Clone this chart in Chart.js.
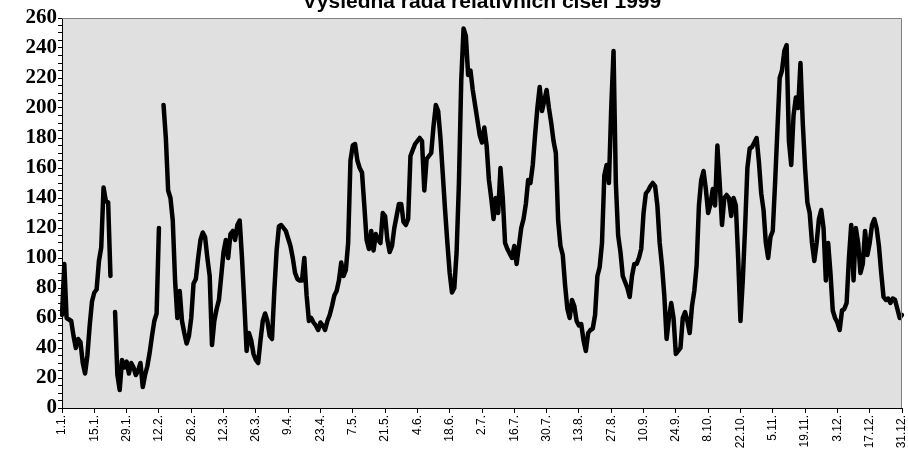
<!DOCTYPE html>
<html>
<head>
<meta charset="utf-8">
<script src="https://cdn.jsdelivr.net/npm/chart.js@4.4.0/dist/chart.umd.min.js"></script>
<style>
    html, body { margin: 0; padding: 0; background: #fff; }
</style>
</head>
<body>
<canvas id="myChart" width="908" height="457"></canvas>
<script>
// data (daily values 1999, one array per month)
const titleText = 'Výsledná řada relativních čísel 1999';
const tickLabels = ['1.1.', '15.1.', '29.1.', '12.2.', '26.2.', '12.3.', '26.3.', '9.4.', '23.4.', '7.5.', '21.5.', '4.6.', '18.6.',
    '2.7.', '16.7.', '30.7.', '13.8.', '27.8.', '10.9.', '24.9.', '8.10.', '22.10.', '5.11.', '19.11.', '3.12.', '17.12.', '31.12.'];

const jan = [62, 96, 60, 59, 58, 48, 40, 46, 44, 30, 23, 35, 55, 71, 77, 79, 98, 107, 147, 138, 137, 88, null, 64, 22, 12, 32, 27, 31, 23, 30];
const feb = [27, 22, 25, 30, 14, 22, 28, 37, 48, 58, 63, 120, null, 202, 180, 145, 140, 125, 85, 60, 78, 58, 50, 43, 48, 60, 83, 86];
const mar = [100, 112, 117, 114, 100, 88, 42, 58, 66, 72, 88, 104, 112, 100, 116, 118, 112, 122, 125, 100, 70, 38, 50, 45, 36, 32, 30, 45, 58, 63, 58];
const apr = [48, 46, 78, 105, 121, 122, 120, 118, 113, 108, 100, 90, 86, 85, 85, 100, 75, 58, 60, 57, 55, 52, 57, 55, 52, 58, 62, 68, 75, 78];
const may = [85, 97, 88, 92, 110, 165, 175, 176, 165, 160, 157, 135, 112, 106, 118, 105, 116, 112, 110, 130, 128, 112, 104, 108, 120, 128, 136, 136, 124, 122, 126];
const jun = [168, 172, 176, 178, 180, 178, 145, 166, 168, 170, 188, 202, 198, 180, 156, 132, 110, 90, 77, 80, 104, 150, 218, 253, 248, 222, 225, 212, 202, 192];
const jul = [182, 177, 187, 175, 152, 140, 126, 140, 130, 160, 140, 110, 106, 103, 100, 108, 96, 108, 120, 126, 136, 152, 150, 162, 182, 200, 214, 198, 205, 212, 200];
const aug = [190, 178, 170, 125, 108, 102, 82, 66, 60, 72, 68, 58, 55, 56, 45, 38, 50, 52, 53, 62, 88, 94, 110, 155, 162, 150, 200, 238, 150, 115, 104];
const sep = [88, 84, 80, 74, 88, 96, 96, 100, 106, 130, 143, 145, 148, 150, 148, 135, 110, 95, 75, 46, 60, 70, 60, 36, 38, 40, 60, 64, 58, 50];
const oct = [68, 78, 95, 135, 152, 158, 146, 130, 136, 146, 135, 175, 150, 122, 140, 142, 140, 128, 140, 135, 100, 58, 85, 120, 160, 173, 174, 177, 180, 164, 143];
const nov = [132, 110, 100, 114, 118, 150, 185, 220, 225, 238, 242, 178, 162, 195, 207, 200, 230, 190, 160, 137, 130, 110, 98, 110, 126, 132, 120, 85, 110, 90];
const dec = [65, 60, 57, 52, 65, 66, 70, 100, 122, 85, 120, 110, 90, 96, 118, 102, 110, 122, 126, 120, 108, 90, 74, 72, 73, 70, 73, 72, 66, 60, 62];

const values = [].concat(jan, feb, mar, apr, may, jun, jul, aug, sep, oct, nov, dec);
// label only every 14th day
const days = values.map(function (v, i) {
    return i % 14 === 0 ? tickLabels[i / 14] : '';
});

// grey plot area, cut title, grey top/right frame
const framePlugin = {
    id: 'frame',
    beforeDraw: function (chart) {
        const ctx = chart.ctx;
        const a = chart.chartArea;
        ctx.save();
        ctx.fillStyle = '#e0e0e0';
        ctx.fillRect(a.left, a.top, a.right - a.left, a.bottom - a.top);
        ctx.fillStyle = '#000';
        ctx.font = 'bold 21px "Liberation Sans"';
        ctx.textAlign = 'center';
        ctx.textBaseline = 'alphabetic';
        ctx.fillText(titleText, (a.left + a.right) / 2, 8);
        ctx.restore();
    },
    afterDraw: function (chart) {
        const ctx = chart.ctx;
        const a = chart.chartArea;
        ctx.save();
        ctx.strokeStyle = '#808080';
        ctx.lineWidth = 1;
        ctx.beginPath();
        ctx.moveTo(a.left, a.top + 0.5);
        ctx.lineTo(a.right - 0.5, a.top + 0.5);
        ctx.lineTo(a.right - 0.5, a.bottom);
        ctx.stroke();
        ctx.restore();
    }
};

const config = {
    type: 'line',
    data: {
        labels: days,
        datasets: [{
            data: values,
            borderColor: '#000',
            borderWidth: 4.5,
            borderJoinStyle: 'round',
            borderCapStyle: 'round',
            pointRadius: 0,
            fill: false,
            tension: 0,
            spanGaps: false
        }]
    },
    options: {
        responsive: false,
        animation: false,
        layout: { padding: { top: 18, right: 6, left: 0, bottom: 0 } },
        plugins: { legend: { display: false }, tooltip: { enabled: false }, title: { display: false } },
        scales: {
            x: {
                offset: false,
                afterFit: function (s) {
                    s.height = 49;
                    s.paddingLeft = 0;
                    s.paddingRight = 0;
                },
                border: { display: true, color: '#000', width: 1 },
                grid: {
                    drawOnChartArea: false,
                    drawTicks: true,
                    tickLength: 5,
                    color: function (c) { return c.index % 14 === 0 ? '#000' : 'rgba(0,0,0,0)'; }
                },
                ticks: {
                    autoSkip: false,
                    minRotation: 90,
                    maxRotation: 90,
                    padding: 2,
                    color: '#000',
                    font: { family: 'Liberation Sans', size: 12 }
                }
            },
            y: {
                min: 0,
                max: 260,
                afterFit: function (s) {
                    s.width = 62;
                    s.paddingTop = 0;
                    s.paddingBottom = 0;
                },
                border: { display: true, color: '#000', width: 1 },
                grid: { drawOnChartArea: false, drawTicks: true, tickLength: 4, color: '#000' },
                ticks: {
                    stepSize: 5,
                    autoSkip: false,
                    padding: 1,
                    color: '#000',
                    font: { family: 'Liberation Serif', size: 21, weight: 'bold' },
                    callback: function (v) { return v % 20 === 0 ? v : ''; }
                }
            }
        }
    },
    plugins: [framePlugin]
};

const myChart = new Chart(document.getElementById('myChart'), config);
</script>
</body>
</html>
